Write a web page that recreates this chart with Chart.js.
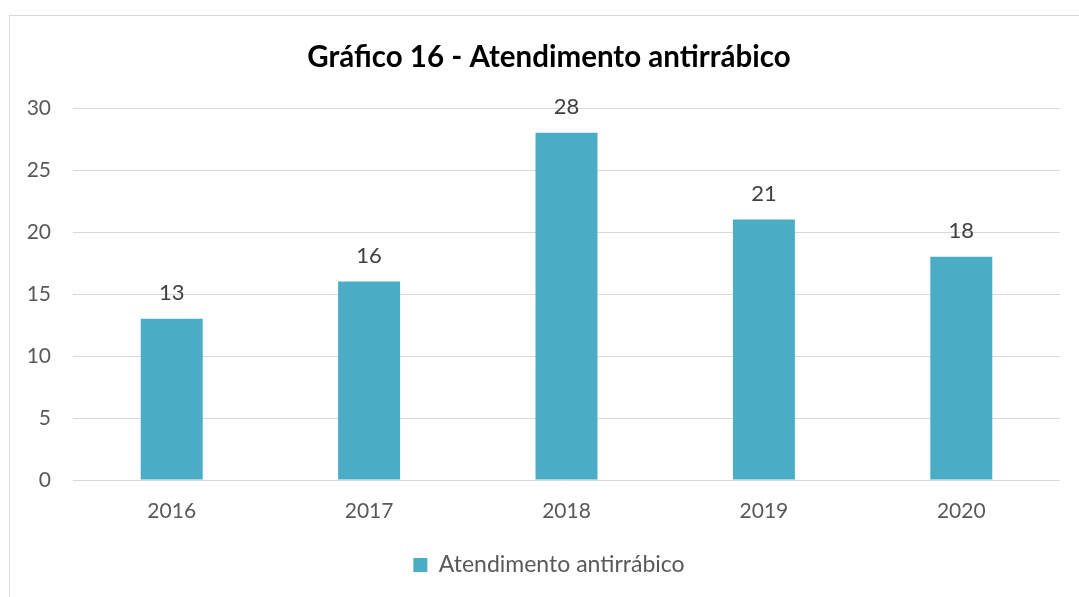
<!DOCTYPE html>
<html><head><meta charset="utf-8">
<script src="https://cdn.jsdelivr.net/npm/chart.js@4.4.1/dist/chart.umd.min.js"></script>
<style>
html,body{margin:0;padding:0;background:#fff;overflow:hidden}
#frame{position:absolute;left:9px;top:15px;width:1200px;height:700px;border:1px solid #d9d9d9;box-sizing:border-box}
#wrap{position:absolute;left:0;top:0;width:1079px;height:597px}
</style></head>
<body>
<div id="frame"></div>
<div id="wrap"><canvas id="c" width="1079" height="597"></canvas></div>
<script>
const categories = ['2016','2017','2018','2019','2020'];
const values = [13, 16, 28, 21, 18];
const seriesName = 'Atendimento antirrábico';
const titleText = 'Gráfico 16 - Atendimento antirrábico';
const yTicks = [0, 5, 10, 15, 20, 25, 30];

const FONT = 'Lato, "Open Sans", sans-serif';

const valueLabels = {
  id: 'valueLabels',
  afterDatasetsDraw(chart) {
    const ctx = chart.ctx;
    const meta = chart.getDatasetMeta(0);
    ctx.save();
    ctx.font = '22px ' + FONT;
    ctx.fillStyle = '#404040';
    ctx.textAlign = 'center';
    ctx.textBaseline = 'middle';
    meta.data.forEach((bar, i) => {
      ctx.fillText(String(values[i]), bar.x, bar.y - 26);
    });
    ctx.restore();
  }
};

// shift title and legend centring to match the reference
const shiftBlocks = {
  id: 'shiftBlocks',
  afterLayout(chart) {
    if (chart.titleBlock) chart.titleBlock.left = 38;
    if (chart.legend) chart.legend.left = 38;
  }
};

new Chart(document.getElementById('c'), {
  type: 'bar',
  data: {
    labels: categories,
    datasets: [{
      label: seriesName,
      data: values,
      backgroundColor: '#4BACC6',
      borderWidth: 0,
      categoryPercentage: 1,
      barPercentage: 0.314
    }]
  },
  options: {
    responsive: false,
    animation: false,
    layout: { padding: { top: 0, left: 0, right: 19, bottom: 10.5 } },
    plugins: {
      title: {
        display: true,
        text: titleText,
        color: '#000',
        font: { family: FONT, size: 29.5, weight: 'bold', lineHeight: 1.2 },
        padding: { top: 39.3, bottom: 33.3 }
      },
      legend: {
        display: true,
        position: 'bottom',
        labels: {
          color: '#595959',
          font: { family: FONT, size: 23 },
          boxWidth: 14,
          boxHeight: 14,
          padding: 10
        }
      },
      tooltip: { enabled: false }
    },
    scales: {
      x: {
        grid: { display: false, drawTicks: false },
        border: { display: false },
        ticks: { color: '#595959', font: { family: FONT, size: 21 }, padding: 19 },
        afterFit: s => { s.height = 63.5; }
      },
      y: {
        min: 0, max: 30,
        grid: { color: '#d9d9d9', lineWidth: 1, drawTicks: false },
        border: { display: false },
        afterBuildTicks: s => { s.ticks = yTicks.map(v => ({ value: v })); },
        ticks: { color: '#595959', font: { family: FONT, size: 21 }, padding: 22 },
        afterFit: s => { s.width = 73; }
      }
    }
  },
  plugins: [valueLabels, shiftBlocks]
});
</script>
</body></html>
